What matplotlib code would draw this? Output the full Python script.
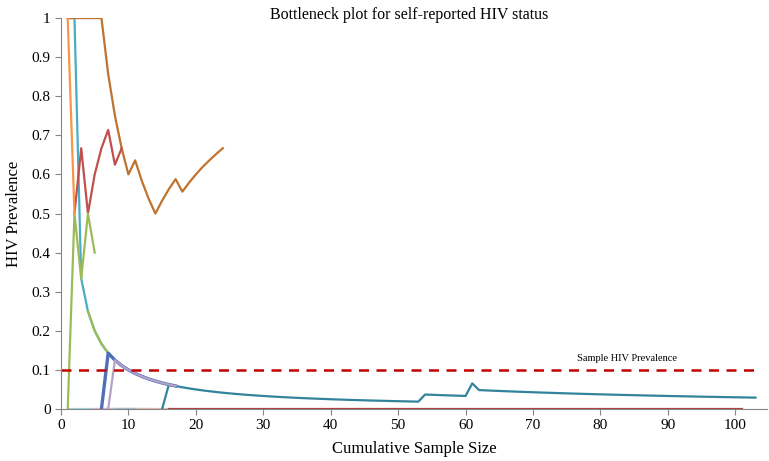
import numpy as np
import matplotlib
matplotlib.use("Agg")
import matplotlib.pyplot as plt
from matplotlib.ticker import FuncFormatter

plt.rcParams['font.family'] = ['Liberation Serif', 'DejaVu Serif']

# cumulative sample size -> HIV prevalence, one list pair per seed chain
zero_blue_x = [1, 13]
zero_blue_y = [0, 0]
zero_pink_x = [5, 16]
zero_pink_y = [0, 0]
zero_grey_x = [8, 11]
zero_grey_y = [0, 0]
zero_dred_x = [16, 101]
zero_dred_y = [0, 0]

teal_x = list(range(1, 18))
teal_y = [1, 1] + [1 / n for n in range(3, 18)]

orange_x = [1, 2]
orange_y = [1, 0.5]

red_x = [2, 3, 4, 5, 6, 7, 8, 9]
red_y = [0.5, 0.667, 0.5, 0.6, 0.667, 0.714, 0.625, 0.667]

green_x = [1, 2, 3, 4, 5]
green_y = [0, 0.5, 0.333, 0.5, 0.4]

green2_x = [4, 5, 6, 7, 8, 9]
green2_y = [0.25, 0.2, 0.167, 0.143, 0.125, 0.111]

brown_x = list(range(1, 25))
brown_y = [1, 1, 1, 1, 1, 1, 0.857, 0.75, 0.667, 0.6, 0.636, 0.583,
           0.538, 0.5, 0.533, 0.5625, 0.588, 0.556, 0.579, 0.6, 0.619,
           0.636, 0.652, 0.667]

blue_x = list(range(6, 18))
blue_y = [0] + [1 / n for n in range(7, 18)]

lav_x = list(range(7, 18))
lav_y = [0] + [1 / n for n in range(8, 18)]

dteal_x = list(range(15, 104))
dteal_y = ([0] + [1 / n for n in range(16, 54)] + [2 / n for n in range(54, 61)]
           + [4 / 61] + [3 / n for n in range(62, 104)])

sample_prev = 0.1

fig = plt.figure(figsize=(7.69, 4.61), dpi=100)
ax = fig.add_axes([0.0793, 0.1128, 0.918, 0.848])

lw = 1.6
ax.plot(zero_blue_x, zero_blue_y, color='#A9D5E2', lw=lw)
ax.plot(zero_pink_x, zero_pink_y, color='#E6B9B8', lw=lw)
ax.plot(zero_grey_x, zero_grey_y, color='#A7BBCF', lw=lw)
ax.plot(zero_dred_x, zero_dred_y, color='#A9433F', lw=lw)
ax.plot(teal_x, teal_y, color='#4BACC6', lw=lw)
ax.plot(dteal_x, dteal_y, color='#31849B', lw=lw)
ax.plot(green2_x, green2_y, color='#9BBB59', lw=lw)
ax.plot(blue_x, blue_y, color='#4F6FB8', lw=2.4)
ax.plot(lav_x, lav_y, color='#B3A2C7', lw=lw)
ax.plot(brown_x, brown_y, color='#C0722F', lw=lw)
ax.plot(red_x, red_y, color='#C0504D', lw=lw)
ax.plot(green_x, green_y, color='#9BBB59', lw=lw)
ax.plot(orange_x, orange_y, color='#F79646', lw=lw)

ax.axhline(sample_prev, xmin=0, xmax=103.3 / 104.7, color='#C00000', lw=1.8,
           ls=(0, (4, 3)))
ax.text(84, 0.128, 'Sample HIV Prevalence', fontsize=7.5, ha='center',
        va='center')

ax.set_xlim(0, 104.7)
ax.set_ylim(0, 1)
ax.set_xticks(range(0, 101, 10))
ax.set_yticks(np.arange(0, 1.01, 0.1))
ax.yaxis.set_major_formatter(FuncFormatter(lambda v, p: '%g' % round(v, 1)))

for s in ['top', 'right']:
    ax.spines[s].set_visible(False)
for s in ['left', 'bottom']:
    ax.spines[s].set_color('#868686')
ax.tick_params(colors='#868686', labelcolor='black', labelsize=11,
               length=4, direction='out')

ax.set_xlabel('Cumulative Sample Size', fontsize=12, labelpad=6)
ax.set_ylabel('HIV Prevalence', fontsize=12, labelpad=7)
fig.text(0.532, 0.967, 'Bottleneck plot for self-reported HIV status',
         fontsize=11.5, ha='center', va='center')

fig.savefig('out.png', dpi=100)
